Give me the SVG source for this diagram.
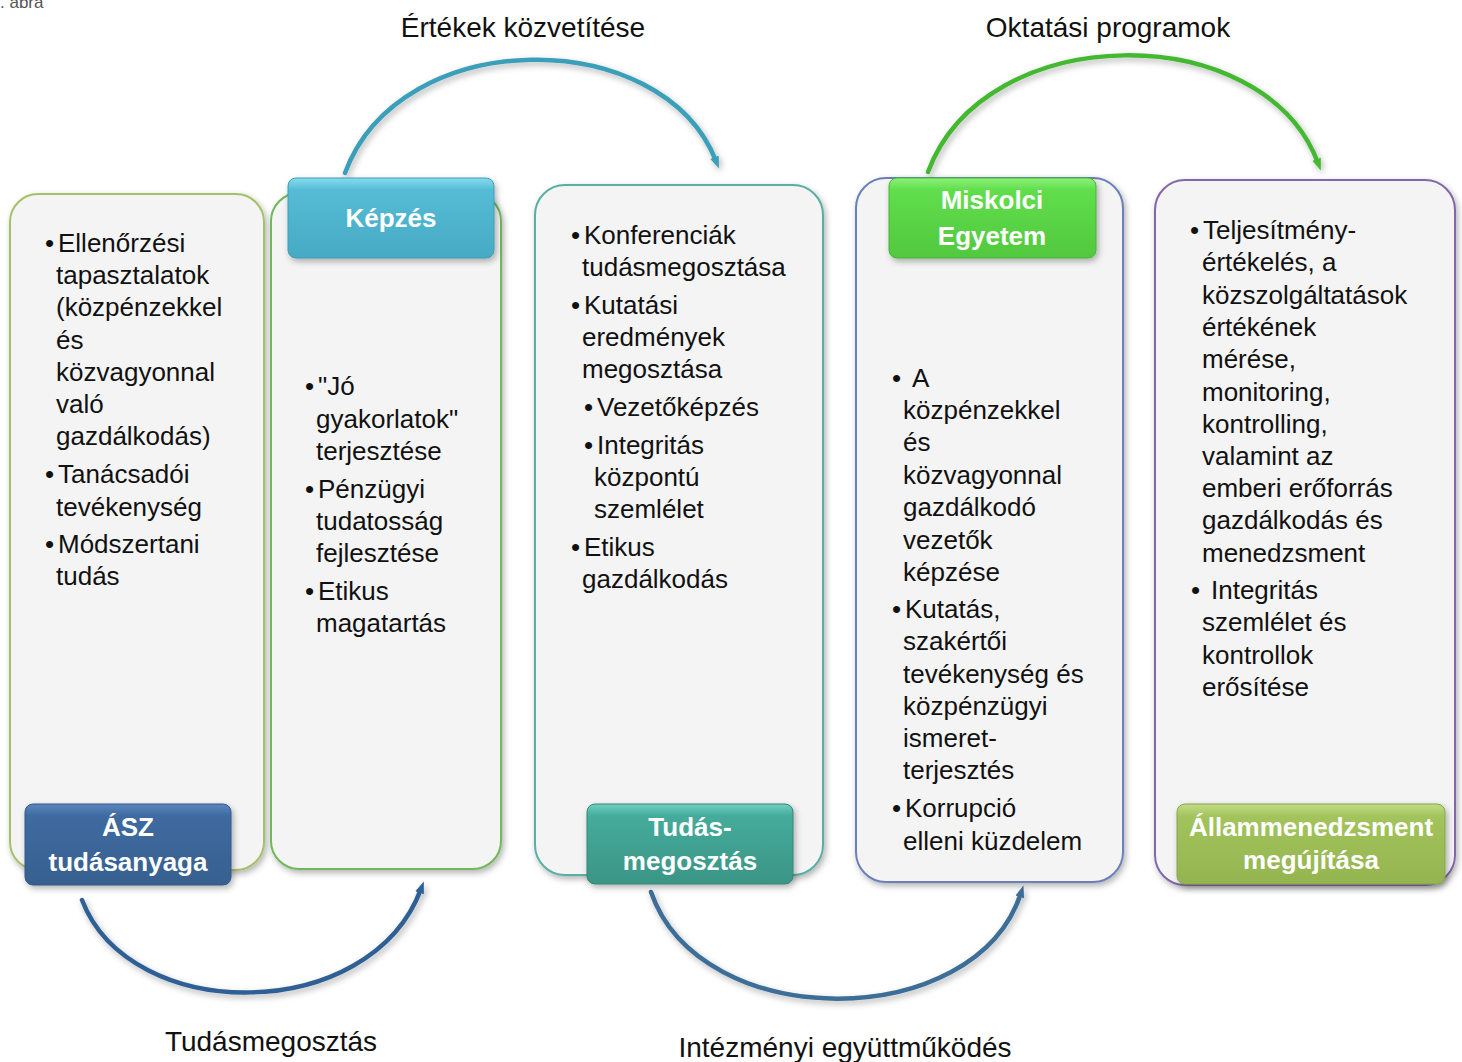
<svg xmlns="http://www.w3.org/2000/svg" width="1462" height="1062" viewBox="0 0 1462 1062">
<style>
.box{fill:#f4f4f4;stroke-width:2}
.t{font-family:"Liberation Sans",Arial,sans-serif;font-size:26px;fill:#111}
.h{font-family:"Liberation Sans",Arial,sans-serif;font-size:26px;font-weight:bold;fill:#fff;text-anchor:middle}
.lbl{font-family:"Liberation Sans",Arial,sans-serif;font-size:28px;fill:#111;text-anchor:middle}
.arc{fill:none;stroke-width:4.5;stroke-linecap:round}
</style>
<defs>
<filter id="sh" x="-10%" y="-10%" width="130%" height="130%">
<feDropShadow dx="2" dy="3" stdDeviation="3" flood-color="#000" flood-opacity="0.3"/>
</filter>
<linearGradient id="gA" x1="0" y1="0" x2="0" y2="1"><stop offset="0" stop-color="#5a86bd"/><stop offset="0.15" stop-color="#3f6aa0"/><stop offset="1" stop-color="#36608f"/></linearGradient>
<linearGradient id="gK" x1="0" y1="0" x2="0" y2="1"><stop offset="0" stop-color="#86dcef"/><stop offset="0.15" stop-color="#55bcd6"/><stop offset="1" stop-color="#47aac4"/></linearGradient>
<linearGradient id="gT" x1="0" y1="0" x2="0" y2="1"><stop offset="0" stop-color="#6fd0c0"/><stop offset="0.15" stop-color="#45ab9b"/><stop offset="1" stop-color="#3a9585"/></linearGradient>
<linearGradient id="gM" x1="0" y1="0" x2="0" y2="1"><stop offset="0" stop-color="#8ef07c"/><stop offset="0.15" stop-color="#60de4b"/><stop offset="1" stop-color="#52c83f"/></linearGradient>
<linearGradient id="gS" x1="0" y1="0" x2="0" y2="1"><stop offset="0" stop-color="#c2dc86"/><stop offset="0.15" stop-color="#a3c45c"/><stop offset="1" stop-color="#93b44f"/></linearGradient>
<marker id="m1" markerWidth="12" markerHeight="10" refX="4" refY="5" orient="auto" markerUnits="userSpaceOnUse"><path d="M0,0.5 L12,5 L0,9.5 Z" fill="#3a9fba"/></marker>
<marker id="m2" markerWidth="12" markerHeight="10" refX="4" refY="5" orient="auto" markerUnits="userSpaceOnUse"><path d="M0,0.5 L12,5 L0,9.5 Z" fill="#45b832"/></marker>
<marker id="m3" markerWidth="12" markerHeight="10" refX="4" refY="5" orient="auto" markerUnits="userSpaceOnUse"><path d="M0,0.5 L12,5 L0,9.5 Z" fill="#2f5f95"/></marker>
<marker id="m4" markerWidth="12" markerHeight="10" refX="4" refY="5" orient="auto" markerUnits="userSpaceOnUse"><path d="M0,0.5 L12,5 L0,9.5 Z" fill="#3d6e98"/></marker>
</defs>
<rect width="1462" height="1062" fill="#fff"/>
<text x="0" y="8" style="font-family:'Liberation Sans',Arial,sans-serif;font-size:17px;fill:#555">. ábra</text>

<g id="connectors">
<path class="arc" d="M345,173 C400,24 662,24 716,161" stroke="#3a9fba" marker-end="url(#m1)" filter="url(#sh)"/>
<path class="arc" d="M928,172 C985,18 1264,18 1318,163" stroke="#45b832" marker-end="url(#m2)" filter="url(#sh)"/>
<path class="arc" d="M82,900 C130,1025 370,1025 421,889" stroke="#2f5f95" marker-end="url(#m3)" filter="url(#sh)"/>
<path class="arc" d="M651,892 C700,1034 975,1034 1021,893" stroke="#3d6e98" marker-end="url(#m4)" filter="url(#sh)"/>
</g>

<g id="labels">
<text class="lbl" x="523" y="37">Értékek közvetítése</text>
<text class="lbl" x="1108" y="37">Oktatási programok</text>
<text class="lbl" x="271" y="1051">Tudásmegosztás</text>
<text class="lbl" x="845" y="1057">Intézményi együttműködés</text>
</g>

<g id="box-asz">
<rect class="box" x="10" y="194" width="254" height="676" rx="28" stroke="#a4c16a" filter="url(#sh)"/>
<text class="t"><tspan x="45" y="252">•</tspan><tspan x="58" y="252">Ellenőrzési</tspan><tspan x="56" y="284">tapasztalatok</tspan><tspan x="56" y="316">(közpénzekkel</tspan><tspan x="56" y="349">és</tspan><tspan x="56" y="381">közvagyonnal</tspan><tspan x="56" y="413">való</tspan><tspan x="56" y="445">gazdálkodás)</tspan></text>
<text class="t"><tspan x="45" y="483">•</tspan><tspan x="58" y="483">Tanácsadói</tspan><tspan x="56" y="516">tevékenység</tspan></text>
<text class="t"><tspan x="45" y="553">•</tspan><tspan x="58" y="553">Módszertani</tspan><tspan x="56" y="585">tudás</tspan></text>
</g>

<g id="box-kepzes">
<rect class="box" x="271" y="193" width="230" height="676" rx="28" stroke="#70b85a" filter="url(#sh)"/>
<text class="t"><tspan x="305" y="395">•</tspan><tspan x="318" y="395">"Jó</tspan><tspan x="316" y="428">gyakorlatok"</tspan><tspan x="316" y="460">terjesztése</tspan></text>
<text class="t"><tspan x="305" y="498">•</tspan><tspan x="318" y="498">Pénzügyi</tspan><tspan x="316" y="530">tudatosság</tspan><tspan x="316" y="562">fejlesztése</tspan></text>
<text class="t"><tspan x="305" y="600">•</tspan><tspan x="318" y="600">Etikus</tspan><tspan x="316" y="632">magatartás</tspan></text>
</g>

<g id="box-tudas">
<rect class="box" x="535" y="185" width="288" height="690" rx="30" stroke="#5aaea3" filter="url(#sh)"/>
<text class="t"><tspan x="571" y="244">•</tspan><tspan x="584" y="244">Konferenciák</tspan><tspan x="582" y="276">tudásmegosztása</tspan></text>
<text class="t"><tspan x="571" y="314">•</tspan><tspan x="584" y="314">Kutatási</tspan><tspan x="582" y="346">eredmények</tspan><tspan x="582" y="378">megosztása</tspan></text>
<text class="t"><tspan x="584" y="416">•</tspan><tspan x="597" y="416">Vezetőképzés</tspan></text>
<text class="t"><tspan x="584" y="454">•</tspan><tspan x="597" y="454">Integritás</tspan><tspan x="594" y="486">központú</tspan><tspan x="594" y="518">szemlélet</tspan></text>
<text class="t"><tspan x="571" y="556">•</tspan><tspan x="584" y="556">Etikus</tspan><tspan x="582" y="588">gazdálkodás</tspan></text>
</g>

<g id="box-miskolc">
<rect class="box" x="856" y="178" width="267" height="704" rx="30" stroke="#6a80ba" filter="url(#sh)"/>
<text class="t"><tspan x="892" y="387">•</tspan><tspan x="912" y="387">A</tspan><tspan x="903" y="419">közpénzekkel</tspan><tspan x="903" y="451">és</tspan><tspan x="903" y="484">közvagyonnal</tspan><tspan x="903" y="516">gazdálkodó</tspan><tspan x="903" y="549">vezetők</tspan><tspan x="903" y="581">képzése</tspan></text>
<text class="t"><tspan x="892" y="618">•</tspan><tspan x="905" y="618">Kutatás,</tspan><tspan x="903" y="650">szakértői</tspan><tspan x="903" y="683">tevékenység és</tspan><tspan x="903" y="715">közpénzügyi</tspan><tspan x="903" y="747">ismeret-</tspan><tspan x="903" y="779">terjesztés</tspan></text>
<text class="t"><tspan x="892" y="817">•</tspan><tspan x="905" y="817">Korrupció</tspan><tspan x="903" y="850">elleni küzdelem</tspan></text>
</g>

<g id="box-allam">
<rect class="box" x="1155" y="180" width="300" height="705" rx="30" stroke="#8466aa" filter="url(#sh)"/>
<text class="t"><tspan x="1190" y="239">•</tspan><tspan x="1203" y="239">Teljesítmény-</tspan><tspan x="1202" y="271">értékelés, a</tspan><tspan x="1202" y="304">közszolgáltatások</tspan><tspan x="1202" y="336">értékének</tspan><tspan x="1202" y="368">mérése,</tspan><tspan x="1202" y="401">monitoring,</tspan><tspan x="1202" y="433">kontrolling,</tspan><tspan x="1202" y="465">valamint az</tspan><tspan x="1202" y="497">emberi erőforrás</tspan><tspan x="1202" y="529">gazdálkodás és</tspan><tspan x="1202" y="562">menedzsment</tspan></text>
<text class="t"><tspan x="1191" y="599">•</tspan><tspan x="1211" y="599">Integritás</tspan><tspan x="1202" y="631">szemlélet és</tspan><tspan x="1202" y="664">kontrollok</tspan><tspan x="1202" y="696">erősítése</tspan></text>
</g>

<g id="hdr-asz">
<rect x="25" y="804" width="206" height="81" rx="8" fill="url(#gA)" stroke="#35598a" stroke-width="1" filter="url(#sh)"/>
<text class="h" x="128" y="836">ÁSZ</text>
<text class="h" x="128" y="871">tudásanyaga</text>
</g>
<g id="hdr-kepzes">
<rect x="288" y="178" width="206" height="80" rx="8" fill="url(#gK)" stroke="#3f9cb6" stroke-width="1" filter="url(#sh)"/>
<text class="h" x="391" y="227">Képzés</text>
</g>
<g id="hdr-tudas">
<rect x="587" y="804" width="206" height="80" rx="8" fill="url(#gT)" stroke="#338676" stroke-width="1" filter="url(#sh)"/>
<text class="h" x="690" y="836">Tudás-</text>
<text class="h" x="690" y="870">megosztás</text>
</g>
<g id="hdr-miskolc">
<rect x="889" y="178" width="207" height="80" rx="8" fill="url(#gM)" stroke="#48b436" stroke-width="1" filter="url(#sh)"/>
<text class="h" x="992" y="209">Miskolci</text>
<text class="h" x="992" y="245">Egyetem</text>
</g>
<g id="hdr-allam">
<rect x="1177" y="804" width="268" height="80" rx="8" fill="url(#gS)" stroke="#86a548" stroke-width="1" filter="url(#sh)"/>
<text class="h" x="1311" y="836">Állammenedzsment</text>
<text class="h" x="1311" y="869">megújítása</text>
</g>
</svg>
